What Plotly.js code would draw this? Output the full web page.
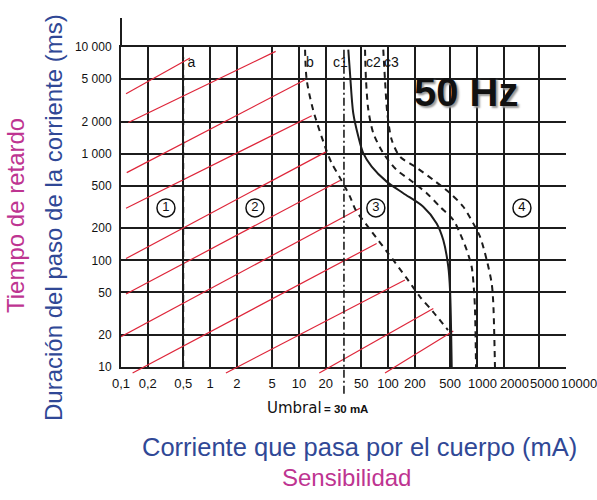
<!DOCTYPE html>
<html>
<head>
<meta charset="utf-8">
<script src="https://cdn.plot.ly/plotly-3.0.1.min.js"></script>
<style>html,body{margin:0;padding:0;background:#fff;}#chart{width:597px;height:500px;}</style>
</head>
<body>
<div id="chart"></div>
<script>
// ---- tick values / labels ----
const xTickVals = [0.1,0.2,0.5,1,2,5,10,20,50,100,200,500,1000,2000,5000,10000];
const xTickText = ['0,1','0,2','0,5','1','2','5','10','20','50','100','200','500','1000','2000','5000','10000'];
const xGridVals = [0.2,0.5,1,2,5,10,20,50,100,200,500,1000,2000,5000];
const yTickVals = [10,20,50,100,200,500,1000,2000,5000,10000];
const yTickText = ['10','20','50','100','200','500','1 000','2 000','5 000','10 000'];

// ---- curves (current mA, duration ms) ----
const aX = [0.5, 0.5];
const aY = [10, 8000];
const bX = [11.7, 12.2, 14.4, 19.6, 23.3, 28.9, 37.4, 43, 65.6, 100, 162, 229, 321, 472];
const bY = [9440, 4930, 2580, 1167, 814, 593, 396, 300, 186, 117, 68, 45.5, 32.9, 22.2];
const c1X = [35.8, 37.4, 40.7, 46.4, 52.7, 65.6, 96.6, 148.5, 249, 352, 418, 476, 498, 520];
const c1Y = [9440, 5700, 2400, 1448, 1011, 757, 547, 426, 318, 222, 155, 87, 52.6, 10];
const c2X = [55.2, 56.6, 60.1, 68.4, 88.5, 125, 177, 272, 384, 542, 644, 766, 871, 925, 950, 975];
const c2Y = [9440, 4930, 2580, 1556, 1011, 705, 567, 426, 318, 239, 179, 125, 87, 52.6, 34, 10];
const c3X = [88.5, 92.5, 98.2, 110, 136, 201, 323, 498, 702, 908, 1081, 1285, 1462, 1524, 1592];
const c3Y = [9440, 4930, 2400, 1349, 940, 757, 567, 426, 318, 222, 167, 101, 60.8, 39.5, 10];
const umbralX = [32, 32];
const umbralY = [9440, 5.3];

// ---- red hatching lines (start / end points) ----
const redStartX = [0.114, 0.121, 0.116, 0.114, 0.114, 0.114, 0.1, 0.135, 1.51, 16.9, 92.5];
const redStartY = [3640, 1960, 664, 308, 104, 48.3, 19.2, 8.8, 8.8, 8.8, 8.8];
const redEndX   = [0.596, 5.47, 11.7, 13.9, 20.1, 28.9, 48.4, 74.6, 155, 323, 542];
const redEndY   = [7880, 9100, 4930, 2265, 1040, 561, 308, 144, 65.3, 35.4, 21.8];

// ---- labels ----
const curveLabels = ['a','b','c1','c2','c3'];
const curveLabelX = [0.62, 13.3, 29.2, 68.7, 109];
const curveLabelY = [6930, 7080, 7080, 7080, 7080];
const zoneLabels = ['1','2','3','4'];
const zoneX = [0.32, 3.2, 73, 3200];
const zoneY = [310, 310, 310, 310];

const redX = [], redY = [];
for (let i = 0; i < redStartX.length; i++) {
  redX.push(redStartX[i], redEndX[i], null);
  redY.push(redStartY[i], redEndY[i], null);
}

const BLK = '#1c1c1c';
const dashed = '6px,5px';
const dummy = (xa) => ({x:[1], y:[100], xaxis:xa, yaxis:'y', mode:'markers', marker:{opacity:0}, hoverinfo:'skip', showlegend:false});
const traces = [
  dummy('x'), dummy('x2'),
  {x:redX, y:redY, xaxis:'x3', yaxis:'y3', mode:'lines', line:{color:'rgb(222,38,58)', width:1.2}, connectgaps:false, showlegend:false},
  {x:aX, y:aY, xaxis:'x3', yaxis:'y3', mode:'lines', line:{color:BLK, width:2, dash:dashed}, showlegend:false},
  {x:bX, y:bY, xaxis:'x3', yaxis:'y3', mode:'lines', line:{color:BLK, width:2, dash:dashed, shape:'spline', smoothing:0.8}, showlegend:false},
  {x:umbralX, y:umbralY, xaxis:'x3', yaxis:'y3', mode:'lines', line:{color:BLK, width:1.6, dash:'8px,3px,2px,3px'}, showlegend:false},
  {x:c1X, y:c1Y, xaxis:'x3', yaxis:'y3', mode:'lines', line:{color:BLK, width:2, shape:'spline', smoothing:0.8}, showlegend:false},
  {x:c2X, y:c2Y, xaxis:'x3', yaxis:'y3', mode:'lines', line:{color:BLK, width:2, dash:dashed, shape:'spline', smoothing:0.8}, showlegend:false},
  {x:c3X, y:c3Y, xaxis:'x3', yaxis:'y3', mode:'lines', line:{color:BLK, width:2, dash:dashed, shape:'spline', smoothing:0.8}, showlegend:false},
  {x:curveLabelX, y:curveLabelY, text:curveLabels, xaxis:'x3', yaxis:'y3', mode:'text', textposition:'middle center',
   textfont:{family:'Liberation Sans, Arial, sans-serif', size:14, color:'#111'}, showlegend:false},
  {x:zoneX, y:zoneY, text:zoneLabels, xaxis:'x3', yaxis:'y3', mode:'markers+text', textposition:'middle center',
   marker:{symbol:'circle', size:18, color:'#fff', line:{color:'#111', width:1.5}},
   textfont:{family:'Liberation Sans, Arial, sans-serif', size:13, color:'#111'}, showlegend:false}
];

const PH = 353; // paper height in px
const font = 'Liberation Sans, Arial, sans-serif';
const blue = 'rgb(48,72,150)';
const mag = 'rgb(190,52,145)';
const xTickFont = {family:font, size:13, color:'#111'};

// crowded labels at the right end are spread out (as in the printed original)
const crowdShift = [5, 10.5, 5.5, 13];
const crowdAnn = xTickVals.slice(12).map((v, i) => ({
  text: xTickText[12 + i], xref:'x', yref:'paper', x: Math.log10(v), y:(400-383)/PH,
  xshift: crowdShift[i], xanchor:'center', yanchor:'middle', showarrow:false, font:xTickFont
}));

const layout = {
  width:597, height:500,
  margin:{l:121, r:31, t:47, b:100},
  paper_bgcolor:'#fff', plot_bgcolor:'rgba(0,0,0,0)',
  hovermode:false, showlegend:false,
  xaxis:{type:'log', range:[-1,4], domain:[0,1], anchor:'y', tickmode:'array',
    tickvals:xTickVals.slice(0,12), ticktext:xTickText.slice(0,12),
    tickangle:0, showgrid:false, zeroline:false, showline:true, mirror:true, linecolor:BLK, linewidth:2, ticks:'',
    tickfont:xTickFont, ticklabelstandoff:3},
  xaxis2:{type:'log', range:[-1,4], overlaying:'x', anchor:'y', tickmode:'array', tickvals:xGridVals,
    showticklabels:false, showgrid:true, gridcolor:BLK, gridwidth:2, zeroline:false, showline:false, ticks:''},
  yaxis:{type:'log', range:[1,4], domain:[(400-367)/PH, 1], anchor:'x', tickmode:'array', tickvals:yTickVals, ticktext:yTickText,
    showgrid:true, gridcolor:BLK, gridwidth:2, zeroline:false, showline:true, linecolor:BLK, linewidth:2, ticks:'',
    tickfont:{family:font, size:12, color:'#111'}, ticklabelstandoff:5},
  xaxis3:{type:'log', range:[-1,4], domain:[0,1], anchor:'y3', visible:false},
  yaxis3:{type:'log', range:[4-PH/(320/3), 4], domain:[0,1], anchor:'x3', visible:false},
  shapes:[
    {type:'line', xref:'paper', yref:'paper', x0:0, x1:0, y0:1, y1:1+(47-18)/PH, line:{color:BLK, width:2}}
  ],
  annotations: crowdAnn.concat([
    {text:'50 Hz', xref:'paper', yref:'paper', x:(466-121)/445, y:(400-92)/PH, xanchor:'center', yanchor:'middle', showarrow:false,
     font:{family:font, size:40, weight:'bold', color:'#111', shadow:'2px 2px 2px #999'}},
    {text:'Duración del paso de la corriente (ms)', xref:'paper', yref:'paper', x:(53-121)/445, y:(400-218)/PH, textangle:-90,
     xanchor:'center', yanchor:'middle', showarrow:false, font:{family:font, size:24, color:blue}},
    {text:'Tiempo de retardo', xref:'paper', yref:'paper', x:(15-121)/445, y:(400-216)/PH, textangle:-90,
     xanchor:'center', yanchor:'middle', showarrow:false, font:{family:font, size:24, color:mag}},
    {text:'Corriente que pasa por el cuerpo (mA)', xref:'paper', yref:'paper', x:(359-121)/445, y:(400-447)/PH,
     xanchor:'center', yanchor:'middle', showarrow:false, font:{family:font, size:25.5, color:blue}},
    {text:'Sensibilidad', xref:'paper', yref:'paper', x:(346-121)/445, y:(400-478)/PH,
     xanchor:'center', yanchor:'middle', showarrow:false, font:{family:font, size:24, color:mag}},
    {text:'Umbral', xref:'paper', yref:'paper', x:(324-121)/445, y:(400-408)/PH,
     xanchor:'right', yanchor:'middle', showarrow:false, font:{family:'DejaVu Sans, sans-serif', size:15, color:'#111'}},
    {text:'<b>= 30 mA</b>', xref:'paper', yref:'paper', x:(322-121)/445, y:(400-409)/PH,
     xanchor:'left', yanchor:'middle', showarrow:false, font:{family:font, size:11.5, color:'#111'}}
  ])
};

Plotly.newPlot('chart', traces, layout, {staticPlot:true, displayModeBar:false});
</script>
</body>
</html>
